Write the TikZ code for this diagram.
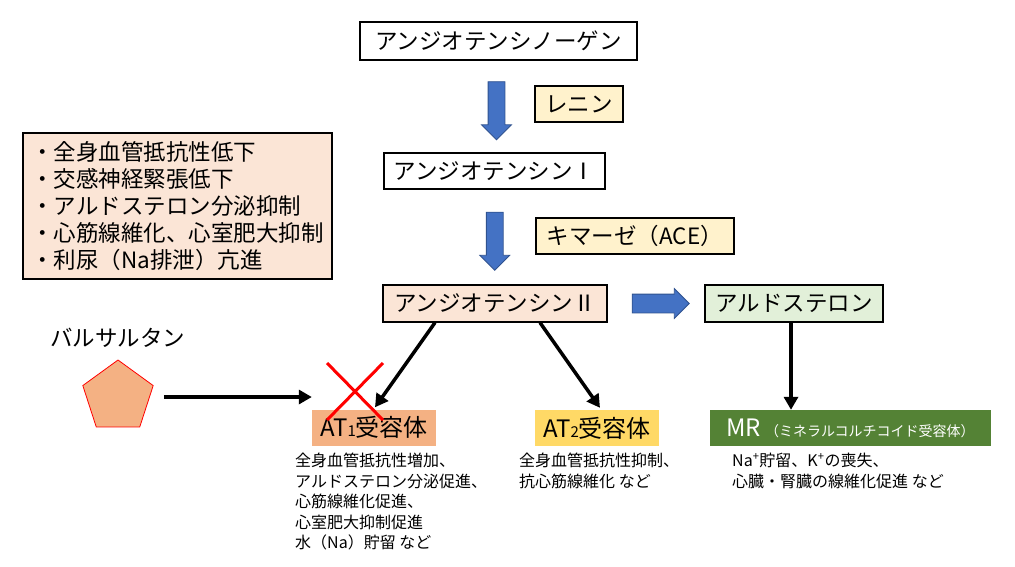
\documentclass[tikz,border=0pt]{standalone}
\usepackage{fontspec}
\setmainfont{Noto Sans CJK JP}
\usetikzlibrary{shapes.geometric, shapes.arrows, arrows.meta, calc, positioning}

\definecolor{peach}{HTML}{FBE5D6}
\definecolor{cream}{HTML}{FFF2CC}
\definecolor{mint}{HTML}{E2F0D9}
\definecolor{salmon}{HTML}{F4B183}
\definecolor{gold}{HTML}{FFD966}
\definecolor{leaf}{HTML}{548235}
\definecolor{flowblue}{HTML}{4472C4}
\definecolor{flowedge}{HTML}{2F528F}

\begin{document}
\begin{tikzpicture}[x=1pt, y=-1pt,
    box/.style = {draw=black, line width=1.2pt, inner sep=0pt, font=\fontsize{22.5}{27}\selectfont},
    rcpt/.style = {inner sep=0pt, minimum height=36pt, font=\fontsize{24}{28}\selectfont},
    eff/.style = {anchor=north west, inner sep=0pt, align=left, font=\fontsize{16}{20.5}\selectfont},
    flowdown/.style = {single arrow, draw=flowedge, fill=flowblue, line width=0.8pt, rotate=-90,
        inner xsep=0pt, inner ysep=8pt, minimum height=58pt, single arrow head extend=6.5pt},
    flowright/.style = {single arrow, draw=flowedge, fill=flowblue, line width=0.8pt,
        inner xsep=0pt, inner ysep=9pt, minimum height=57pt, single arrow head extend=5.5pt},
    blk/.style = {line width=3.5pt, -{Triangle[length=13pt,width=14pt]}},
    nogo/.style = {draw=red, line width=3pt}
]
\useasboundingbox (0,0) rectangle (1015,566);

% cascade
\node[box, fill=white, minimum width=277pt, minimum height=38pt] (ago) at (498.5,41) {アンジオテンシノーゲン};
\node[box, fill=cream, minimum width=88pt, minimum height=36pt] (renin) at (579,104) {レニン};
\node[box, fill=white, minimum width=221pt, minimum height=36pt] (ang1) at (494.5,171) {アンジオテンシンⅠ};
\node[box, fill=cream, minimum width=198pt, minimum height=36pt] (chym) at (635,236) {キマーゼ（ACE）};
\node[box, fill=peach, minimum width=224pt, minimum height=37pt] (ang2) at (495,303.5) {アンジオテンシンⅡ};
\node[box, fill=mint, minimum width=178pt, minimum height=37pt] (aldo) at (794,303.5) {アルドステロン};

\node[flowdown] (dn1) at ($(ago.south)!0.5!(ang1.north)$) {};
\node[flowdown] (dn2) at ($(ang1.south)!0.5!(ang2.north)$) {};
\node[flowright] (rt) at ($(ang2.east)!0.5!(aldo.west)$) {};

% ARB effects
\node[box, fill=peach, minimum width=309pt, minimum height=146pt, align=left] (merit) at (177.5,206)
    {・全身血管抵抗性低下\\・交感神経緊張低下\\・アルドステロン分泌抑制\\・心筋線維化、心室肥大抑制\\・利尿（Na排泄）亢進};

\node[font=\fontsize{22.5}{27}\selectfont, inner sep=0pt] (valname) at (117.5,338) {バルサルタン};
\node[regular polygon, regular polygon sides=5, minimum size=74pt, inner sep=0pt,
    draw=red, line width=0.8pt, fill=salmon] (drug) at (118,397) {};

% receptors
\node[rcpt, fill=salmon, minimum width=124pt] (at1) at (374,427.5) {AT{\fontsize{15}{15}\selectfont 1}受容体};
\node[rcpt, fill=gold, minimum width=124pt] (at2) at (597,428) {AT{\fontsize{15}{15}\selectfont 2}受容体};
\node[rcpt, fill=leaf, text=white, minimum width=281pt] (mr) at (850.5,428)
    {{\fontsize{24}{28}\selectfont MR}\,{\fontsize{14}{16}\selectfont （ミネラルコルチコイド受容体）}};

\node[eff] (at1eff) at (295,453) {全身血管抵抗性増加、\\アルドステロン分泌促進、\\心筋線維化促進、\\心室肥大抑制促進\\水（Na）貯留 など};
\node[eff] (at2eff) at (519,453) {全身血管抵抗性抑制、\\抗心筋線維化 など};
\node[eff] (mreff) at (732,453) {Na\textsuperscript{+}貯留、K\textsuperscript{+}の喪失、\\心臓・腎臓の線維化促進 など};

% connectors
\draw[blk] ([xshift=14pt]drug.east) -- (drug.east -| at1.west);
\draw[blk] ([xshift=-60pt]ang2.south) -- ([xshift=1pt,yshift=2pt]at1.north);
\draw[blk] ([xshift=45pt]ang2.south) -- ([xshift=3pt,yshift=2pt]at2.north);
\draw[blk] ([xshift=-3pt]aldo.south) -- ([xshift=-3pt]aldo.south |- mr.north);

\draw[nogo] (327,363) -- (383,420) (383,363) -- (327,420);
\end{tikzpicture}
\end{document}
